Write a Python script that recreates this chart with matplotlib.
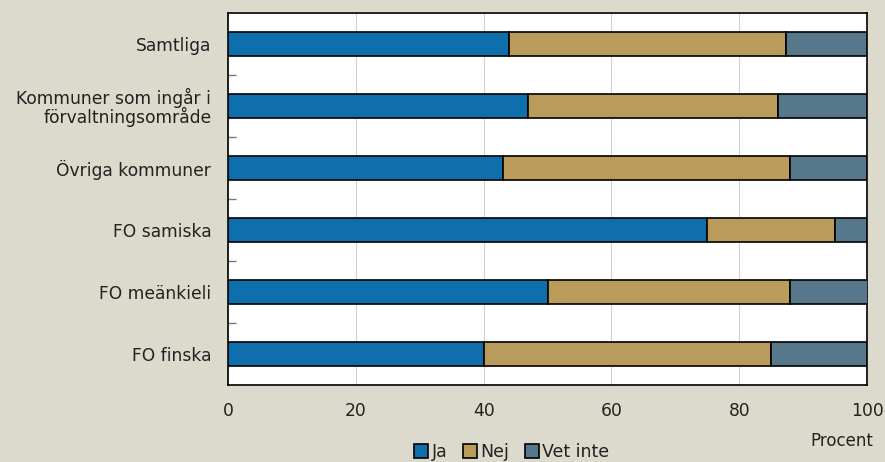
import numpy as np
import matplotlib.pyplot as plt
from matplotlib.ticker import FixedLocator

kategorier = ['Samtliga', 'Kommuner som ingår i\nförvaltningsområde', 'Övriga kommuner',
              'FO samiska', 'FO meänkieli', 'FO finska']
ja = [44, 47, 43, 75, 50, 40]
nej = [43.3, 39, 45, 20, 38, 45]
vet_inte = [12.7, 14, 12, 5, 12.4, 15]

serier = ['Ja', 'Nej', 'Vet inte']
farger = ['#0f6fad', '#b99b5c', '#56788a']
bg = '#dcd9cd'

plt.rcParams['font.family'] = ['DejaVu Sans']

fig = plt.figure(figsize=(8.85, 4.62), dpi=100, facecolor=bg)
ax = fig.add_axes([228/885, 1 - 385/462, (867-228)/885, (385-13)/462])
ax.set_facecolor('white')

y = np.arange(len(kategorier))
left = np.zeros(len(kategorier))
for vals, namn, f in zip([ja, nej, vet_inte], serier, farger):
    ax.barh(y, vals, left=left, height=0.39, color=f, edgecolor='black',
            linewidth=1.2, label=namn, zorder=3)
    left += np.array(vals)

ax.set_xlim(0, 100)
ax.set_ylim(len(kategorier) - 0.5, -0.5)
ax.set_xticks([0, 20, 40, 60, 80, 100])
ax.grid(axis='x', color='#d0d0d0', linewidth=0.8, zorder=0)
ax.set_yticks(y)
ax.set_yticklabels(kategorier, fontsize=12.3, color='#222222', linespacing=0.95)
ax.yaxis.set_minor_locator(FixedLocator(np.arange(0.5, len(kategorier) - 1, 1)))
ax.tick_params(axis='y', which='major', length=0, pad=12)
ax.tick_params(axis='y', which='minor', length=6, width=1, direction='in', color='#777777')
ax.tick_params(axis='x', length=0, labelsize=12.3, labelcolor='#222222', pad=12)
for s in ax.spines.values():
    s.set_color('black')
    s.set_linewidth(1.2)

fig.text(842/885, 1 - 441/462, 'Procent', ha='center', va='center', fontsize=12, color='#222222')
leg = fig.legend(loc='center', bbox_to_anchor=(512/885, 1 - 452/462), ncol=3, frameon=False,
                 fontsize=12.5, handlelength=0.8, handleheight=0.8, handletextpad=0.2,
                 columnspacing=0.9, labelcolor='#222222')

fig.savefig('out.png', dpi=100, facecolor=bg)
